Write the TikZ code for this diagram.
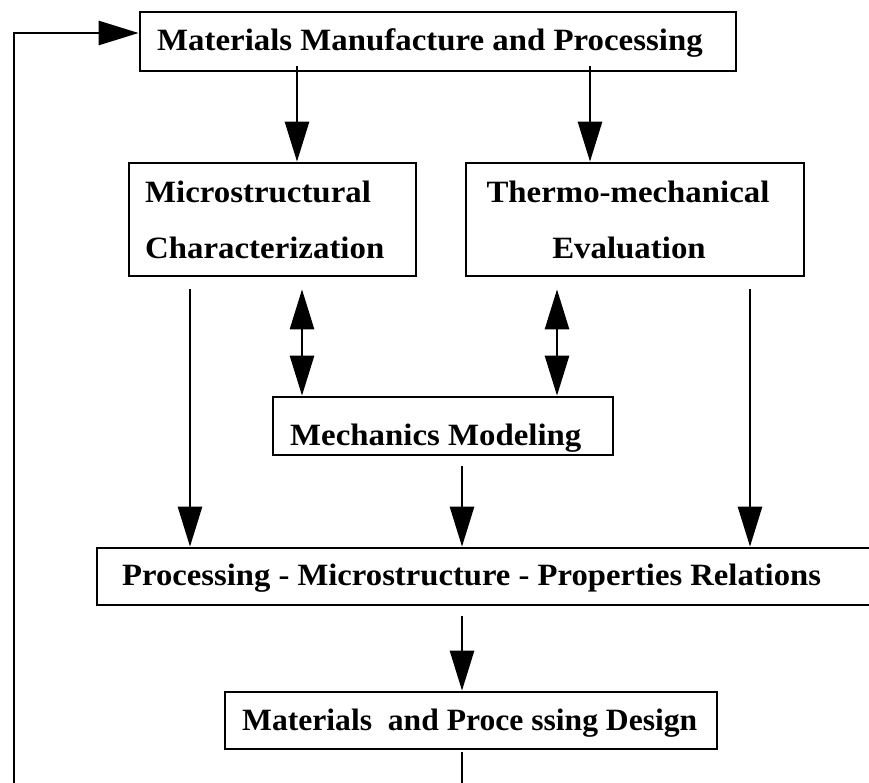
\documentclass[tikz,border=0pt]{standalone}
\usepackage{fontspec}
\setmainfont{Liberation Serif}[FakeStretch=1.06]
\usetikzlibrary{arrows.meta}

\tikzset{
  box/.style={draw, line width=2.7pt, inner sep=0pt, minimum width=#1},
  label/.style={inner sep=0pt, font=\fontsize{31}{37}\selectfont\bfseries},
  conn/.style={line width=2.7pt},
  arr/.style={conn, -{Triangle[length=40pt,width=24pt]}},
  dbl/.style={conn, {Triangle[length=40pt,width=24pt]}-{Triangle[length=40pt,width=24pt]}}
}

\begin{document}
\begin{tikzpicture}[x=1pt,y=-1pt]
  \useasboundingbox (0,0) rectangle (869,782);
  \clip (0,0) rectangle (869,782);
  \fill[white] (0,0) rectangle (869,782);

  % boxes
  \node[box=596pt, minimum height=59pt]  (mmp)    at (438,41.5)  {};
  \node[box=287pt, minimum height=113pt] (micro)  at (272.5,219.5) {};
  \node[box=338pt, minimum height=113pt] (thermo) at (635,219.5) {};
  \node[box=340pt, minimum height=58pt]  (mech)   at (443,426)   {};
  \node[box=820pt, minimum height=57pt]  (pmp)    at (507,576.5) {};
  \node[box=492pt, minimum height=57pt]  (design) at (471,720.5) {};

  % texts
  \node[label, anchor=base west] (t1) at (157,50)  {Materials Manufacture and Processing};
  \node[label, anchor=base west] (t2) at (145,202) {Microstructural};
  \node[label, anchor=base west] (t3) at (145,258) {Characterization};
  \node[label, anchor=base]      (t4) at (628,202) {Thermo-mechanical};
  \node[label, anchor=base]      (t5) at (629,258) {Evaluation};
  \node[label, anchor=base west] (t6) at (290,445) {Mechanics Modeling};
  \node[label, anchor=base west] (t7) at (122,585) {\scalebox{0.994}[1]{Processing - Microstructure - Properties Relations}};
  \node[label, anchor=base west] (t8) at (242,730) {\scalebox{0.962}[1]{Materials\ \ and Proce ssing Design}};

  % connector columns
  \coordinate (xa) at (297,0);
  \coordinate (xb) at (590,0);
  \coordinate (xc) at (302,0);
  \coordinate (xd) at (557,0);
  \coordinate (xe) at (190,0);
  \coordinate (xf) at (750,0);
  \coordinate (xg) at (462,0);
  \coordinate (fbtop) at (0,33);
  \coordinate (fbend) at (14,790);
  \coordinate (dout)  at (462,790);

  % feedback loop
  \draw[arr] (fbend) |- (fbtop -| mmp.west);

  % downward flow
  \draw[arr] ([yshift=6pt]mmp.south -| xa) -- (micro.north -| xa);
  \draw[arr] ([yshift=6pt]mmp.south -| xb) -- (thermo.north -| xb);
  \draw[dbl] ([yshift=-12pt]micro.south -| xc) -- (mech.north -| xc);
  \draw[dbl] ([yshift=-12pt]thermo.south -| xd) -- (mech.north -| xd);
  \draw[arr] ([yshift=-12pt]micro.south -| xe) -- (pmp.north -| xe);
  \draw[arr] ([yshift=-12pt]thermo.south -| xf) -- (pmp.north -| xf);
  \draw[arr] ([yshift=-10pt]mech.south -| xg) -- (pmp.north -| xg);
  \draw[arr] ([yshift=-10pt]pmp.south -| xg) -- (design.north -| xg);
  \draw[conn] ([yshift=-2pt]design.south -| xg) -- (dout);
\end{tikzpicture}
\end{document}
